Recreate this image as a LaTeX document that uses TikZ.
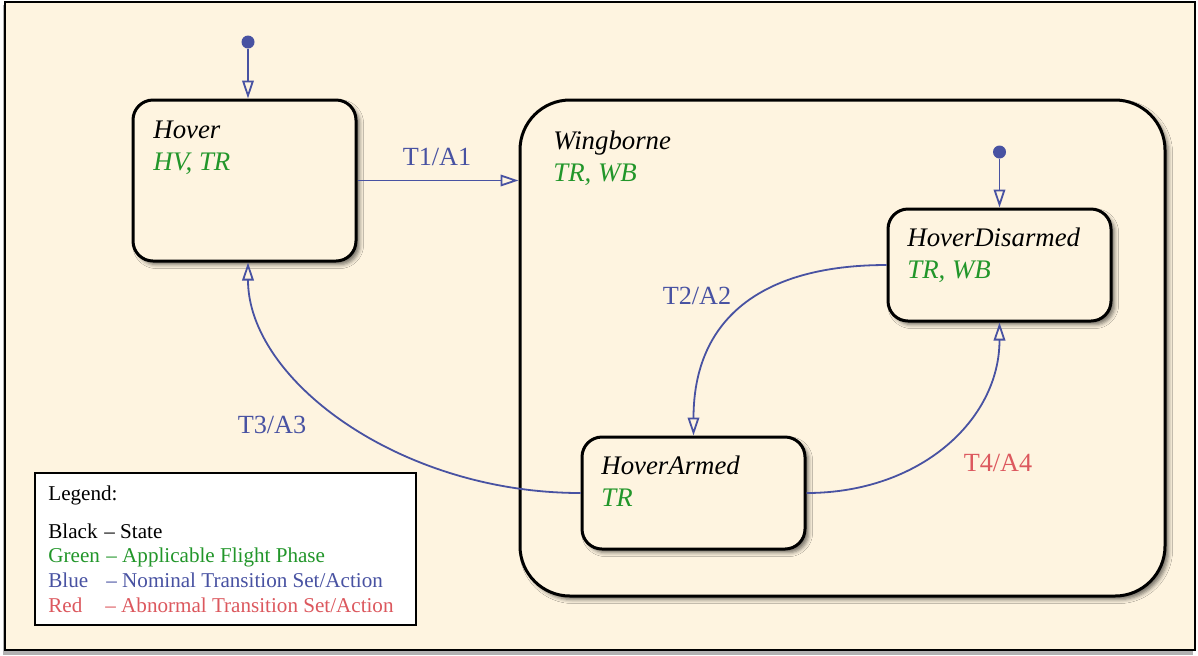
\documentclass[tikz,border=0pt]{standalone}
\usepackage{fontspec}
\setmainfont{Liberation Serif}
\usetikzlibrary{arrows.meta,shadows.blur}
\definecolor{paper}{RGB}{254,244,224}
\definecolor{tblue}{RGB}{72,82,162}
\definecolor{tgreen}{RGB}{34,150,42}
\definecolor{tred}{RGB}{220,88,94}

\begin{document}
\begin{tikzpicture}[x=0.5pt,y=-0.5pt,
  statebox/.style={draw=black, line width=1.5pt, fill=paper, inner sep=0pt,
    rounded corners=10pt,
    blur shadow={shadow xshift=1.8pt, shadow yshift=-1.8pt, shadow blur radius=2pt,
      shadow opacity=55}},
  sname/.style={anchor=base west, inner sep=0pt, font=\fontsize{13.4}{15}\selectfont\itshape},
  sphase/.style={sname, text=tgreen},
  trans/.style={draw=tblue, line width=0.9pt, -{Triangle[open, length=9pt, width=5.8pt]}},
  tlabel/.style={inner sep=0pt, font=\fontsize{13.1}{15}\selectfont},
  initdot/.style={circle, fill=tblue, inner sep=0pt, minimum size=6.5pt},
  legtext/.style={anchor=base west, inner sep=0pt, font=\fontsize{10.55}{12.5}\selectfont}]

  % page frame
  \useasboundingbox (0,0) rectangle (1198,655);
  \fill[gray!60] (3,5) rectangle (1193,655);
  \draw[fill=paper, line width=1pt] (5,2) rectangle (1195,650);

  % composite state
  \node[statebox, rounded corners=25pt, minimum width=322.5pt, minimum height=248pt]
    (wing) at (842.5,348) {};
  \node[sname] (wingN) at (553,149) {Wingborne};
  \node[sphase] (wingP) at (553,181.5) {TR, WB};

  % simple states
  \node[statebox, minimum width=111.5pt, minimum height=80.5pt] (hover) at (244.5,180.5) {};
  \node[sname] (hoverN) at (153,138.5) {Hover};
  \node[sphase] (hoverP) at (153,170) {HV, TR};

  \node[statebox, minimum width=111.5pt, minimum height=56pt] (disarm) at (999.5,265) {};
  \node[sname] (disarmN) at (907,246.5) {HoverDisarmed};
  \node[sphase] (disarmP) at (907,278) {TR, WB};

  \node[statebox, minimum width=111.5pt, minimum height=56pt] (armed) at (693.5,493) {};
  \node[sname] (armedN) at (601,474) {HoverArmed};
  \node[sphase] (armedP) at (601,506) {TR};

  % initial pseudo-states
  \node[initdot] (init1) at (248,42) {};
  \node[initdot] (init2) at (999.5,152) {};
  \draw[trans] (init1) -- (init1 |- hover.north);
  \draw[trans] (init2) -- (disarm.north);

  % transitions
  \draw[trans] (hover.east) -- (hover.east -| wing.west);
  \node[tlabel, text=tblue] (t1) at (437,157) {T1/A1};

  \draw[trans] (disarm.west) .. controls (760,265) and (693.5,320) .. (armed.north);
  \node[tlabel, text=tblue] (t2) at (697,296) {T2/A2};

  \draw[trans] (armed.west) .. controls (400,493) and (248,380) .. (init1 |- hover.south);
  \node[tlabel, text=tblue] (t3) at (272,425) {T3/A3};

  \draw[trans] (armed.east) .. controls (920,493) and (999.5,420) .. (disarm.south);
  \node[tlabel, text=tred] (t4) at (998,463) {T4/A4};

  % legend
  \node[draw=black, line width=1pt, fill=white, minimum width=190.5pt, minimum height=76pt,
    inner sep=0pt] (legend) at (225.5,549) {};
  \node[legtext] (lg0) at (48,500) {Legend:};
  \node[legtext] (lg1a) at (48,538) {Black};
  \node[legtext] (lg1b) at (104,538) {– State};
  \node[legtext, text=tgreen] (lg2a) at (48,562) {Green};
  \node[legtext, text=tgreen] (lg2b) at (106,562) {– Applicable Flight Phase};
  \node[legtext, text=tblue] (lg3a) at (48,587) {Blue};
  \node[legtext, text=tblue] (lg3b) at (106,587) {– Nominal Transition Set/Action};
  \node[legtext, text=tred] (lg4a) at (48,612) {Red};
  \node[legtext, text=tred] (lg4b) at (105,612) {– Abnormal Transition Set/Action};
\end{tikzpicture}
\end{document}
